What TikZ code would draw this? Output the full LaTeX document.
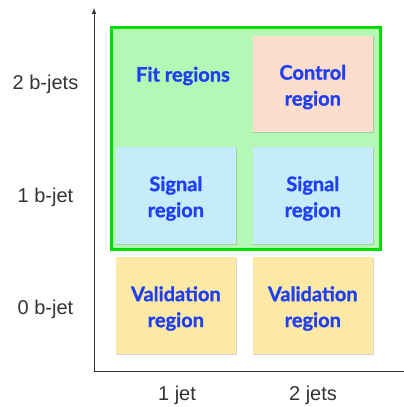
\documentclass[tikz,border=0pt]{standalone}
\usepackage{fontspec}
\setmainfont{Lato}[BoldFeatures={FakeBold=1.2}]
\newfontfamily\axisfont{Liberation Sans}
\usetikzlibrary{shadows}
\definecolor{txtblue}{HTML}{1F3FF2}
\definecolor{fitfill}{HTML}{B5F7B5}
\definecolor{fitdraw}{HTML}{00E000}
\definecolor{ctrlfill}{HTML}{FDDDCC}
\definecolor{sigfill}{HTML}{C6EBFB}
\definecolor{valfill}{HTML}{FDE9A6}
\definecolor{axisgray}{HTML}{333333}
\tikzset{
  regbox/.style={minimum width=120.5pt, minimum height=96.5pt, inner sep=0pt,
    drop shadow={shadow xshift=0.8pt, shadow yshift=-0.8pt, opacity=0.35}},
  regtext/.style={align=center, text=txtblue, yshift=-3pt, font=\fontsize{20}{26}\selectfont\bfseries},
  axlabel/.style={font=\axisfont\fontsize{20}{24}\selectfont, text=axisgray}
}
\begin{document}
\begin{tikzpicture}[x=1pt,y=1pt]
\useasboundingbox (0,0) rectangle (404,407);
% axes
\coordinate (o) at (94,35);
\coordinate (ytop) at (94,399);
\coordinate (xend) at (404,35);
\draw[axisgray, line width=1pt, -latex] (o) -- (ytop);
\draw[axisgray, line width=1pt] (o) -- (xend);
% fit region
\node[draw=fitdraw, fill=fitfill, line width=3pt, minimum width=269pt, minimum height=222pt, inner sep=0pt,
  drop shadow={shadow xshift=0.8pt, shadow yshift=-0.8pt, opacity=0.3}] (fit) at (245.8,268.5) {};
\node[text=txtblue, font=\fontsize{20}{26}\selectfont\bfseries] (fitlbl) at (183,331) {Fit regions};
% boxes
\node[regbox, fill=ctrlfill, label={[regtext]center:Control\\region}] (ctrl) at (312.8,323) {};
\node[regbox, fill=sigfill, label={[regtext]center:Signal\\region}] (sig1) at (175.9,211.5) {};
\node[regbox, fill=sigfill, label={[regtext]center:Signal\\region}] (sig2) at (312.8,211.5) {};
\node[regbox, fill=valfill, label={[regtext]center:Validation\\region}] (val1) at (175.9,101.5) {};
\node[regbox, fill=valfill, label={[regtext]center:Validation\\region}] (val2) at (312.8,101.5) {};
% axis labels
\node[axlabel] (b2) at (45.5,323) {2 b-jets};
\node[axlabel] (b1) at (45.5,210) {1 b-jet};
\node[axlabel] (b0) at (45.5,98) {0 b-jet};
\node[axlabel] (j1) at (177,12) {1 jet};
\node[axlabel] (j2) at (313,12) {2 jets};
\end{tikzpicture}
\end{document}
